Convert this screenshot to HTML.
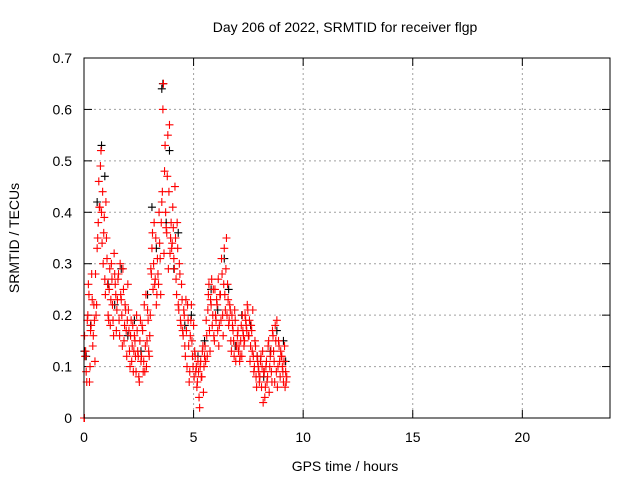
<!DOCTYPE html>
<html><head><meta charset="utf-8"><style>
body{margin:0;background:#fff;}
svg text{font-family:"Liberation Sans",sans-serif;font-size:14px;fill:#000;}
</style></head><body>
<svg id="c" width="640" height="480">
<text x="345" y="32" text-anchor="middle">Day 206 of 2022, SRMTID for receiver flgp</text>
<text x="345" y="471" text-anchor="middle">GPS time / hours</text>
<text transform="translate(19,238) rotate(-90)" text-anchor="middle">SRMTID / TECUs</text>
<g id="grid"></g><g id="marks"></g>
<rect x="84" y="58" width="526" height="360" fill="none" stroke="#000" stroke-width="1"/>
</svg>
<script>
const xTicks=[0,5,10,15,20];
const yTicks=[0,0.1,0.2,0.3,0.4,0.5,0.6,0.7];
const yTickLabels=["0","0.1","0.2","0.3","0.4","0.5","0.6","0.7"];
const hours=[0.05,0.10,0.15,0.20,0.25,0.30,0.35,0.40,0.45,0.50,0.55,0.60,0.65,0.70,0.75,0.80,0.85,0.90,0.95,1.00,
1.05,1.10,1.15,1.20,1.25,1.30,1.35,1.40,1.45,1.50,1.55,1.60,1.65,1.70,1.75,1.80,1.85,1.90,1.95,2.00,
2.05,2.10,2.15,2.20,2.25,2.30,2.35,2.40,2.45,2.50,2.55,2.60,2.65,2.70,2.75,2.80,2.85,2.90,2.95,3.00,
3.05,3.10,3.15,3.20,3.25,3.30,3.35,3.40,3.45,3.50,3.55,3.60,3.65,3.70,3.75,3.80,3.85,3.90,3.95,4.00,
4.05,4.10,4.15,4.20,4.25,4.30,4.35,4.40,4.45,4.50,4.55,4.60,4.65,4.70,4.75,4.80,4.85,4.90,4.95,5.00,
5.05,5.10,5.15,5.20,5.25,5.30,5.35,5.40,5.45,5.50,5.55,5.60,5.65,5.70,5.75,5.80,5.85,5.90,5.95,6.00,
6.05,6.10,6.15,6.20,6.25,6.30,6.35,6.40,6.45,6.50,6.55,6.60,6.65,6.70,6.75,6.80,6.85,6.90,6.95,7.00,
7.05,7.10,7.15,7.20,7.25,7.30,7.35,7.40,7.45,7.50,7.55,7.60,7.65,7.70,7.75,7.80,7.85,7.90,7.95,8.00,
8.05,8.10,8.15,8.20,8.25,8.30,8.35,8.40,8.45,8.50,8.55,8.60,8.65,8.70,8.75,8.80,8.85,8.90,8.95,9.00,
9.05,9.10,9.15,9.20,9.25];
const redA=[0.12,0.09,0.19,0.26,0.07,0.17,0.28,0.14,0.22,0.11,0.20,0.33,0.38,0.41,0.49,0.40,0.44,0.36,0.27,0.42,
0.31,0.20,0.25,0.18,0.30,0.22,0.16,0.28,0.24,0.21,0.27,0.19,0.30,0.23,0.14,0.25,0.18,0.21,0.12,0.26,
0.17,0.10,0.19,0.14,0.09,0.16,0.12,0.20,0.13,0.08,0.15,0.11,0.18,0.09,0.22,0.14,0.10,0.21,0.13,0.16,
0.29,0.33,0.25,0.38,0.27,0.22,0.31,0.26,0.34,0.24,0.42,0.60,0.32,0.53,0.37,0.47,0.29,0.57,0.35,0.33,
0.41,0.31,0.45,0.27,0.38,0.22,0.30,0.19,0.26,0.17,0.21,0.14,0.23,0.10,0.19,0.07,0.16,0.22,0.12,0.18,
0.13,0.09,0.06,0.11,0.04,0.10,0.08,0.13,0.05,0.12,0.11,0.16,0.21,0.26,0.13,0.22,0.18,0.25,0.15,0.20,
0.23,0.17,0.14,0.24,0.19,0.28,0.16,0.33,0.21,0.35,0.26,0.18,0.22,0.15,0.20,0.17,0.12,0.19,0.14,0.16,
0.13,0.11,0.15,0.12,0.17,0.14,0.20,0.18,0.22,0.16,0.19,0.14,0.17,0.21,0.09,0.15,0.08,0.12,0.10,0.07,
0.11,0.06,0.13,0.09,0.04,0.10,0.07,0.14,0.05,0.12,0.09,0.17,0.13,0.07,0.15,0.19,0.10,0.14,0.08,0.12,
0.10,0.07,0.14,0.09,0.08];
const redB=[0.16,0.13,0.07,0.20,0.24,0.10,0.18,0.23,0.16,0.19,0.28,0.22,0.35,0.46,0.41,0.52,0.34,0.30,0.39,0.24,
0.35,0.26,0.19,0.29,0.23,0.27,0.19,0.32,0.26,0.17,0.23,0.28,0.16,0.24,0.20,0.29,0.15,0.22,0.17,0.19,
0.21,0.13,0.16,0.11,0.18,0.13,0.15,0.09,0.17,0.12,0.07,0.19,0.12,0.17,0.11,0.09,0.24,0.15,0.19,0.12,
0.20,0.28,0.36,0.30,0.26,0.35,0.24,0.28,0.40,0.31,0.38,0.44,0.65,0.48,0.40,0.36,0.55,0.44,0.32,0.38,
0.34,0.37,0.29,0.35,0.24,0.33,0.21,0.28,0.18,0.23,0.16,0.20,0.12,0.17,0.22,0.14,0.09,0.19,0.15,0.10,
0.08,0.12,0.10,0.07,0.09,0.02,0.11,0.08,0.14,0.10,0.14,0.19,0.12,0.24,0.17,0.23,0.27,0.20,0.16,0.25,
0.19,0.22,0.27,0.18,0.24,0.31,0.20,0.26,0.24,0.29,0.20,0.23,0.19,0.21,0.13,0.18,0.15,0.21,0.11,0.14,
0.17,0.14,0.12,0.18,0.20,0.16,0.15,0.19,0.17,0.21,0.16,0.11,0.18,0.13,0.12,0.10,0.14,0.06,0.11,0.09,
0.08,0.12,0.10,0.03,0.09,0.06,0.11,0.08,0.15,0.10,0.13,0.07,0.16,0.11,0.18,0.09,0.06,0.15,0.11,0.13,
0.12,0.09,0.11,0.06,0.07];
const blackHours=[0.02,0.1,0.3,0.6,0.8,0.95,1.1,1.4,1.7,2.0,2.3,2.6,2.9,3.1,3.3,3.55,3.6,3.75,3.9,4.1,4.3,4.6,4.9,5.2,5.5,5.8,6.1,6.4,6.6,6.9,7.2,7.6,7.9,8.2,8.5,8.8,9.1,9.2];
const blackVals=[0.13,0.12,0.18,0.42,0.53,0.47,0.26,0.22,0.29,0.16,0.19,0.13,0.24,0.41,0.33,0.64,0.65,0.38,0.52,0.29,0.36,0.18,0.2,0.12,0.15,0.25,0.21,0.31,0.25,0.14,0.2,0.18,0.12,0.08,0.13,0.17,0.15,0.11];
const zeroHours=[0.0,0.02];
const zeroVals=[0.0,0.0];

const X=h=>84+h*526/24, Y=v=>418-v*360/0.7;
const NS="http://www.w3.org/2000/svg";
const grid=document.getElementById('grid'), marks=document.getElementById('marks');
function mk(tag,a,p){const e=document.createElementNS(NS,tag);for(const k in a)e.setAttribute(k,a[k]);p.appendChild(e);return e;}
xTicks.forEach(t=>{const x=X(t);
 if(t>0){const l=mk('line',{x1:x,x2:x,y1:58,y2:418,stroke:'#a0a0a0','stroke-dasharray':'2,3'},grid);
 
 }
 mk('line',{x1:x,x2:x,y1:418,y2:410,stroke:'#000'},grid);mk('line',{x1:x,x2:x,y1:58,y2:66,stroke:'#000'},grid);
 const tx=mk('text',{x:x,y:442,'text-anchor':'middle'},grid);tx.textContent=t;
 
 });
yTicks.forEach((t,i)=>{const y=Y(t);
 if(t>0&&t<0.7){const l=mk('line',{x1:84,x2:610,y1:y,y2:y,stroke:'#a0a0a0','stroke-dasharray':'2,3'},grid);
 
 }
 mk('line',{x1:84,x2:92,y1:y,y2:y,stroke:'#000'},grid);mk('line',{x1:602,x2:610,y1:y,y2:y,stroke:'#000'},grid);
 const tx=mk('text',{x:72,y:y+5,'text-anchor':'end'},grid);tx.textContent=yTickLabels[i];
 
 });
function plus(h,v,c,name){const x=X(h),y=Y(v);
 const p=mk('path',{d:`M${x-4},${y}H${x+4}M${x},${y-4}V${y+4}`,stroke:c,'stroke-width':1.1,fill:'none'},marks);
 
 }
blackHours.forEach((h,i)=>plus(h,blackVals[i],'#000','black-point'));
hours.forEach((h,i)=>plus(h,redA[i],'#f00','red-point'));
hours.forEach((h,i)=>plus(h-0.025,redB[i],'#f00','red-point'));
zeroHours.forEach((h,i)=>plus(h,zeroVals[i],'#f00','red-point'));
</script>
</body></html>
